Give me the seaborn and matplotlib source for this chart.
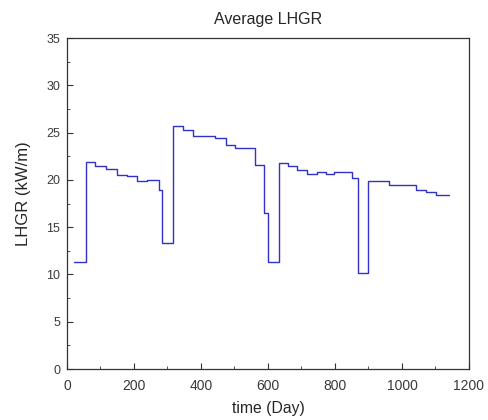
import pandas as pd
import numpy as np
import seaborn as sns
import matplotlib.pyplot as plt
from matplotlib.ticker import MultipleLocator

# step start days and LHGR level from that day on
days = [21, 56, 84, 116, 150, 178, 208, 240, 274, 283, 317, 347, 377, 442, 474,
        503, 561, 589, 601, 634, 661, 688, 717, 745, 772, 797, 852, 870, 900,
        960, 1041, 1071, 1101, 1140]
lhgr = [11.3, 21.9, 21.5, 21.2, 20.5, 20.4, 19.9, 20.0, 18.9, 13.3, 25.7, 25.3,
        24.6, 24.4, 23.7, 23.4, 21.6, 16.5, 11.3, 21.8, 21.5, 21.0, 20.6, 20.8,
        20.6, 20.8, 20.2, 10.1, 19.9, 19.5, 18.9, 18.7, 18.4, 18.4]

df = pd.DataFrame({"time": days, "LHGR": lhgr})

sns.set_style("ticks")
plt.rcParams["font.family"] = ["Liberation Sans", "DejaVu Sans"]

fig = plt.figure(figsize=(4.88, 4.2), dpi=100)
ax = fig.add_axes([0.1373, 0.1214, 0.8237, 0.7881])

sns.lineplot(data=df, x="time", y="LHGR", sort=False, estimator=None,
             drawstyle="steps-post", color="#3232c8", linewidth=1.0, ax=ax)

ax.set_xlim(0, 1200)
ax.set_ylim(0, 35)
ax.xaxis.set_major_locator(MultipleLocator(200))
ax.xaxis.set_minor_locator(MultipleLocator(100))
ax.yaxis.set_major_locator(MultipleLocator(5))
ax.yaxis.set_minor_locator(MultipleLocator(2.5))
ax.tick_params(which="both", direction="in", colors="#333333",
               labelcolor="#3a3a3a")
ax.tick_params(axis="x", labelsize=10, pad=7)
ax.tick_params(axis="y", labelsize=9, pad=5)
ax.tick_params(which="major", length=4)
ax.tick_params(which="minor", length=2.5)
for s in ax.spines.values():
    s.set_color("#333333")
    s.set_linewidth(0.9)

ax.set_title("Average LHGR", fontsize=11.5, pad=10)
ax.set_xlabel("time (Day)", fontsize=11.3, labelpad=6)
ax.set_ylabel("LHGR (kW/m)", fontsize=12)
ax.yaxis.set_label_coords(-0.09, 0.53)

fig.savefig("out.png", dpi=100)
